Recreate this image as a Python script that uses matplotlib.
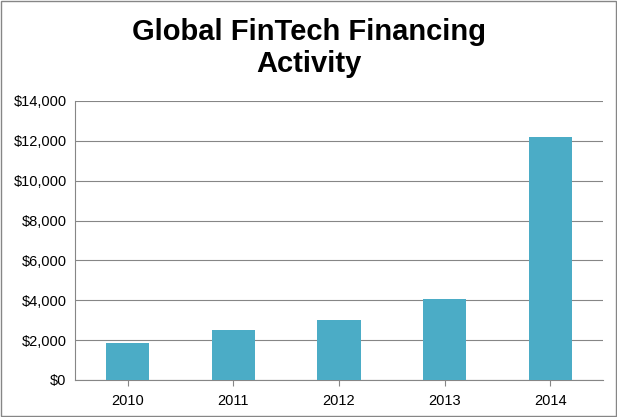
import matplotlib

matplotlib.use("Agg")
import matplotlib.pyplot as plt  # noqa: E402
from matplotlib.ticker import FuncFormatter  # noqa: E402

years = ["2010", "2011", "2012", "2013", "2014"]
financing = [1850, 2500, 3000, 4050, 12200]

fig = plt.figure(figsize=(6.17, 4.17), dpi=100)
ax = fig.add_axes([75 / 617, 1 - 380 / 417, 528 / 617, 279 / 417])

ax.bar(range(len(years)), financing, width=0.41, color="#4BACC6", zorder=3)
ax.set_xlim(-0.5, len(years) - 0.5)
ax.set_ylim(0, 14000)
ax.set_yticks(range(0, 14001, 2000))
ax.yaxis.set_major_formatter(FuncFormatter(lambda v, _: f"${v:,.0f}"))
ax.set_xticks(range(len(years)))
ax.set_xticklabels(years)
ax.grid(axis="y", color="#868686", linewidth=0.8, zorder=0)
for side in ("top", "right"):
    ax.spines[side].set_visible(False)
for side in ("left", "bottom"):
    ax.spines[side].set_color("#868686")
ax.tick_params(axis="both", labelsize=10.5, colors="black", length=0, pad=6)
ax.tick_params(axis="x", length=4, color="#868686", direction="out")

fig.text(0.5, 1 - 48 / 417, "Global FinTech Financing\nActivity", ha="center",
         va="center", fontsize=21, fontweight="bold", family="Liberation Sans",
         linespacing=1.2)
fig.patches.append(plt.Rectangle((0.002, 0.002), 0.996, 0.996, transform=fig.transFigure,
                                 fill=False, edgecolor="#868686", linewidth=1))
for lab in ax.get_xticklabels() + ax.get_yticklabels():
    lab.set_family("Liberation Sans")

fig.savefig("out.png", dpi=100)
